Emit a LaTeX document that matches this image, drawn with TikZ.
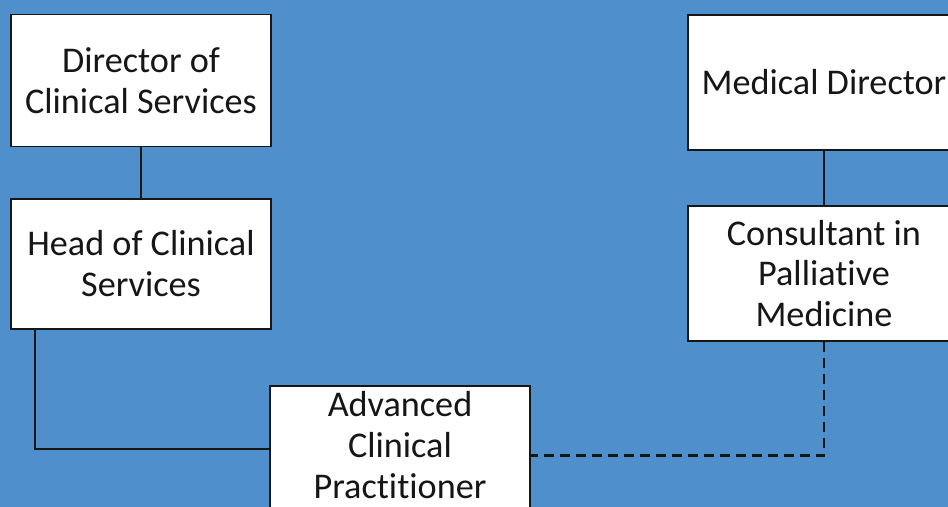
\documentclass[tikz,border=0pt]{standalone}
\usepackage{fontspec}
\setmainfont{Carlito}[Ligatures=NoCommon]
\usetikzlibrary{%
  positioning,% wg. " of "
  calc%
}
\definecolor{bgblue}{RGB}{79,143,204}
\definecolor{linedark}{RGB}{22,22,22}

\begin{document}
\begin{tikzpicture}[
  x=0.02cm, y=-0.02cm,
  font=\fontsize{20.6}{23.3}\selectfont,
  line width=1.1pt,
  rolebox/.style={draw=linedark, fill=white, align=center, inner sep=0pt,
    text=linedark, minimum width=5.2cm, minimum height=2.64cm},
  widebox/.style={rolebox, minimum width=5.44cm, minimum height=2.7cm},
  link/.style={draw=linedark},
  dottedlink/.style={draw=linedark, line width=1.2pt, dash pattern=on 0.2cm off 0.12cm}
]

\useasboundingbox (0,0) rectangle (948,507);
\clip (0,0) rectangle (948,507);
\fill[bgblue] (0,0) rectangle (948,507);

% left column
\node[rolebox] (dirclin) at (141,80.5) {Director of\\Clinical Services};
\node[rolebox, minimum height=2.6cm] (headclin) at (141,264) {Head of Clinical\\Services};

% right column
\node[widebox] (meddir) at (824,82.5) {Medical Director};
\node[widebox] (consult) at (824,273.5) {Consultant in\\Palliative\\Medicine};

% bottom
\node[rolebox, minimum height=2.7cm, text depth=0.36cm] (acp) at (400,453.5)
  {Advanced\\Clinical\\Practitioner};

\draw[link] (dirclin) -- (headclin);
\draw[link] (meddir) -- (consult);
\draw[link] ([xshift=0.5cm]headclin.south west) |- ([yshift=0.09cm]acp.west);
\draw[dottedlink] (consult.south) |- ([yshift=-0.04cm]acp.east);
\end{tikzpicture}
\end{document}
